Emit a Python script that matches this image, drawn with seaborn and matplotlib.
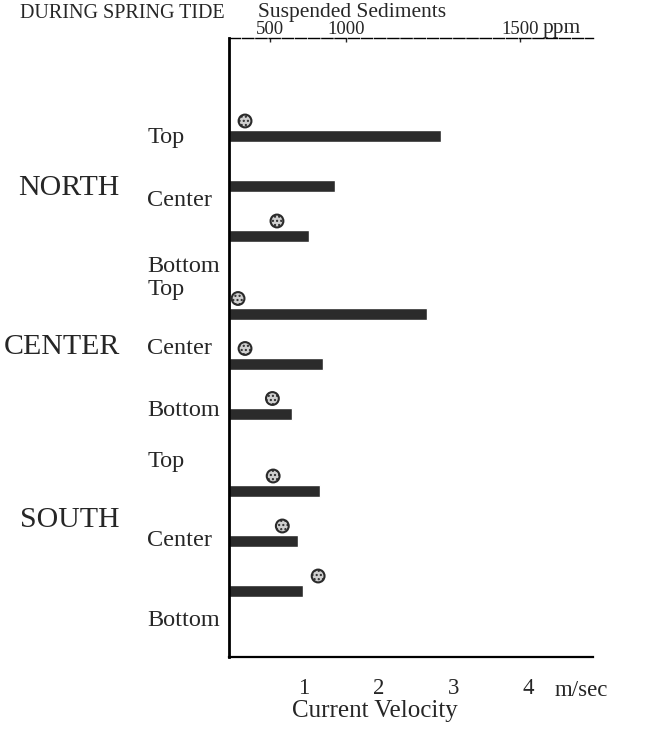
import matplotlib
matplotlib.use("Agg")
import matplotlib.pyplot as plt
import seaborn as sns
import numpy as np
import pandas as pd

sns.set_style("white")
plt.rcParams['font.family'] = ['Liberation Serif', 'DejaVu Serif']

# ---- data ----
stations = ['NORTH', 'CENTER', 'SOUTH']
depths = ['Top', 'Center', 'Bottom']
velocity = [2.84, 1.42, 1.07,   # m/sec, NORTH
            2.65, 1.26, 0.84,   # CENTER
            1.22, 0.92, 0.99]   # SOUTH
sediment = [195, np.nan, 545,   # ppm, NORTH (no value for centre)
            110, 195, 515,
            520, 580, 815]
vel_ticks = [1, 2, 3, 4]
ppm_ticks = [500, 1000, 1500]

# the sediment scale on top is hand drawn and uneven: knots ppm -> velocity units
ppm_knots = [-1000, 0, 500, 1000, 1500, 2000]
vel_knots = [-1.0, 0.0, 0.55, 1.57, 3.90, 5.5]

def ppm_to_vel(p):
    return np.interp(p, ppm_knots, vel_knots)

def vel_to_ppm(v):
    return np.interp(v, vel_knots, ppm_knots)

# ---- layout ----
rows = [(s, d) for s in stations for d in depths]
ypos = [1.96 + g * 3.55 + i for g in range(3) for i in range(3)]
label_y = [1.98, 3.26, 4.56, 5.02, 6.22, 7.44, 8.48, 10.06, 11.64]
station_y = [3.0, 6.18, 9.64]

df = pd.DataFrame({'station': [r[0] for r in rows], 'depth': [r[1] for r in rows],
                   'velocity': velocity, 'sediment': sediment, 'y': ypos})
df['sed_x'] = ppm_to_vel(df['sediment'])
df['sed_y'] = df['y'] - 0.3

fig = plt.figure(figsize=(6.6, 7.35), dpi=100)
ax = fig.add_axes([229 / 660, 1 - 657 / 735, (593 - 229) / 660, (657 - 38) / 735])

sns.barplot(data=df, x='velocity', y='y', orient='h', native_scale=True,
            width=0.24, color='#2b2b2b', saturation=1, ax=ax)
sns.scatterplot(data=df.dropna(), x='sed_x', y='sed_y', s=85, color='#cfcfcf',
                edgecolor='#2a2a2a', linewidth=1.5, hatch='....', ax=ax, zorder=3)

ax.set_xlim(0, 4.87)
ax.set_ylim(12.38, 0)
ax.set_xticks(vel_ticks)
ax.set_xticklabels([str(t) for t in vel_ticks], fontsize=16.5)
ax.set_yticks([])
ax.set_xlabel('')
ax.set_ylabel('')
ax.tick_params(axis='x', direction='out', length=7, width=2, pad=8, color='black')

ax.spines['right'].set_visible(False)
ax.spines['left'].set_linewidth(2)
ax.spines['bottom'].set_linewidth(1.6)
ax.spines['top'].set_linewidth(1.0)
ax.spines['top'].set_linestyle((0, (8, 1.5)))
for side in ['left', 'bottom', 'top']:
    ax.spines[side].set_color('black')

# top sediment axis
sec = ax.secondary_xaxis('top', functions=(vel_to_ppm, ppm_to_vel))
sec.set_xticks(ppm_ticks)
sec.set_xticklabels([str(t) for t in ppm_ticks], fontsize=13.5)
sec.tick_params(direction='in', length=3, width=1, pad=0)
sec.spines['top'].set_visible(False)

ax.text(4.2, 1.008, 'ppm', transform=ax.get_xaxis_transform(), fontsize=15.5,
        ha='left', va='baseline')
ax.text(4.36, -0.063, 'm/sec', transform=ax.get_xaxis_transform(), fontsize=16.5,
        ha='left', va='baseline')
fig.text(375 / 660, 1 - 711 / 735, 'Current Velocity', fontsize=18, ha='center', va='center')
fig.text(20 / 660, 1 - 13 / 735, 'DURING SPRING TIDE', fontsize=14.5, ha='left', va='center')
fig.text(258 / 660, 1 - 12 / 735, 'Suspended Sediments', fontsize=15.5, ha='left', va='center')

for d, yl in zip(df['depth'], label_y):
    ax.text(-0.225, yl, d, transform=ax.get_yaxis_transform(), fontsize=17.5,
            ha='left', va='center')
for s, ys in zip(stations, station_y):
    ax.text(-0.30, ys, s, transform=ax.get_yaxis_transform(), fontsize=21.5,
            ha='right', va='center')

fig.savefig('out.png', dpi=100, facecolor='white')
